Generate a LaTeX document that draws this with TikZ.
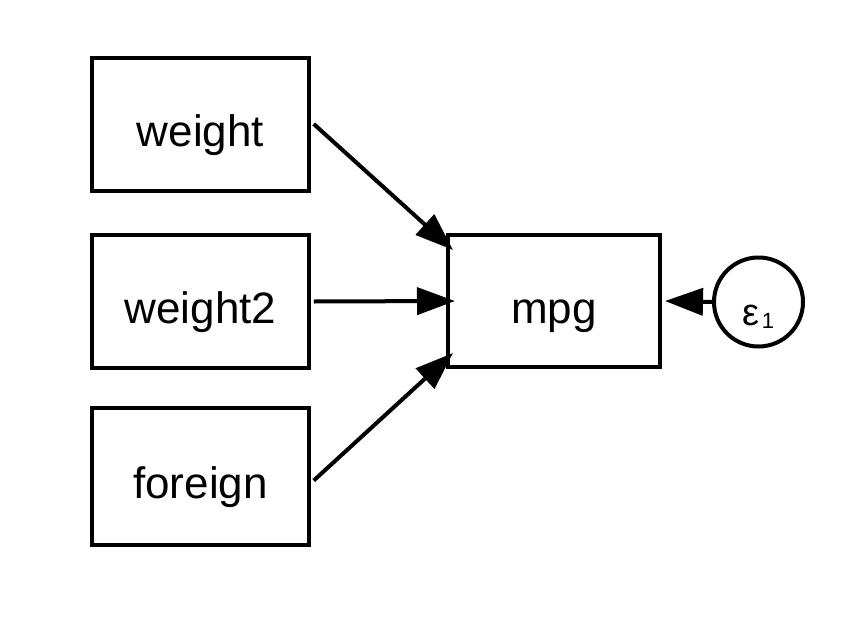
\documentclass[tikz,border=0pt]{standalone}
\usepackage{fontspec}
\setmainfont{Liberation Sans}
\usetikzlibrary{arrows.meta}
\begin{document}
\begin{tikzpicture}[x=1pt,y=-1pt,
  varbox/.style={draw,line width=4pt,rectangle,inner sep=0pt,minimum width=216.5pt,minimum height=133pt,text height=44pt,text depth=0pt,font=\fontsize{44}{44}\selectfont},
  errcirc/.style={draw,line width=4pt,circle,inner sep=0pt,minimum size=89pt,text height=46pt,text depth=0pt,font=\fontsize{38}{38}\selectfont},
  path/.style={line width=4pt,-{Triangle[length=38pt,width=27pt]}}]
\useasboundingbox (0,0) rectangle (868,632);
\node[varbox] (weight) at (200.5,124) {weight};
\node[varbox] (weight2) at (200.5,301.5) {weight2};
\node[varbox,minimum height=137pt] (foreign) at (200.5,476.5) {foreign};
\node[varbox,minimum width=212pt,minimum height=132pt] (mpg) at (554,301) {mpg};
\node[errcirc] (e1) at (758.5,302) {ε\kern2pt\raisebox{-3pt}{\fontsize{22}{22}\selectfont 1}};
\draw[path] ([xshift=3pt]weight.east) -- ([xshift=7pt,yshift=-17pt]mpg.north west);
\draw[path] ([xshift=3pt]weight2.east) -- ([xshift=9pt]mpg.west);
\draw[path] ([xshift=3pt,yshift=-4pt]foreign.east) -- ([xshift=7pt,yshift=16pt]mpg.south west);
\draw[path] (e1.west) -- ([xshift=3pt]mpg.east);
\end{tikzpicture}
\end{document}
